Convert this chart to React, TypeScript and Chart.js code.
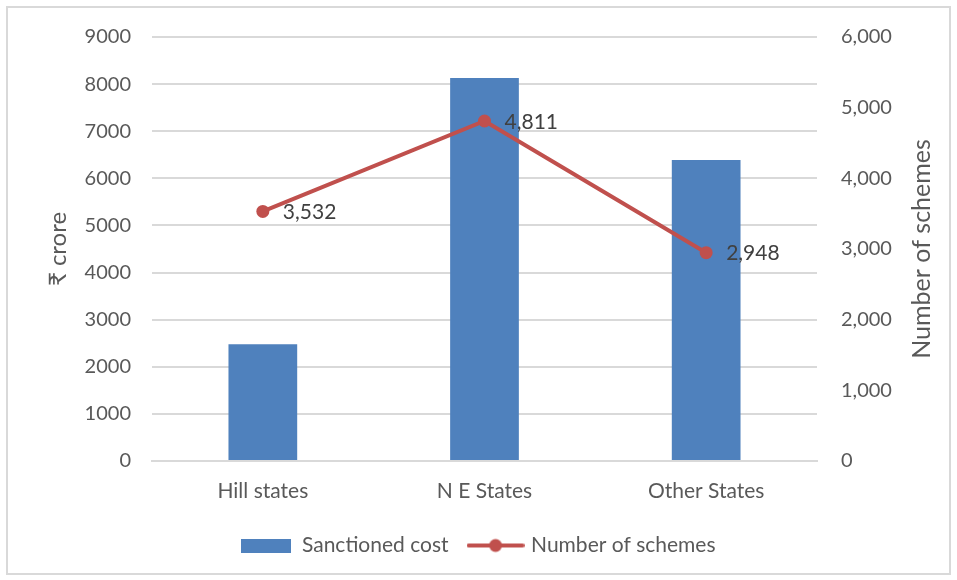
import React, { useEffect, useRef } from "react";
import { Chart, registerables } from "chart.js";

Chart.register(...registerables);

const categories = ["Hill states", "N E States", "Other States"];
const sanctionedCost = [2480, 8130, 6390];
const numberOfSchemes = [3532, 4811, 2948];
const leftTicks = [0, 1000, 2000, 3000, 4000, 5000, 6000, 7000, 8000, 9000];
const rightTicks = [0, 1000, 2000, 3000, 4000, 5000, 6000];

const FONT = "Lato";
const BLUE = "#4F81BD";
const RED = "#C0504D";
const TICK = "#595959";

function makeBarIcon() {
  const c = document.createElement("canvas");
  c.width = 50;
  c.height = 14;
  const g = c.getContext("2d")!;
  g.fillStyle = BLUE;
  g.fillRect(0, 0, 50, 14);
  return c;
}
function makeLineIcon() {
  const c = document.createElement("canvas");
  c.width = 58;
  c.height = 16;
  const g = c.getContext("2d")!;
  g.strokeStyle = RED;
  g.lineWidth = 4;
  g.lineCap = "round";
  g.beginPath();
  g.moveTo(2, 8);
  g.lineTo(56, 8);
  g.stroke();
  g.fillStyle = RED;
  g.beginPath();
  g.arc(29, 8, 6.5, 0, Math.PI * 2);
  g.fill();
  return c;
}

const extrasPlugin = {
  id: "extras",
  afterDatasetsDraw(chart: any) {
    const ctx = chart.ctx;
    const meta = chart.getDatasetMeta(1);
    ctx.save();
    ctx.font = `21px ${FONT}`;
    ctx.fillStyle = "#404040";
    ctx.textAlign = "left";
    ctx.textBaseline = "middle";
    meta.data.forEach((pt: any, i: number) => {
      ctx.fillText(numberOfSchemes[i].toLocaleString("en-US"), pt.x + 20, pt.y + 1);
    });
    ctx.restore();
  },
  afterDraw(chart: any) {
    const ctx = chart.ctx;
    const area = chart.chartArea;
    const cy = (area.top + area.bottom) / 2;
    ctx.save();
    ctx.fillStyle = TICK;
    ctx.textAlign = "center";
    ctx.textBaseline = "middle";
    ctx.font = `24px ${FONT}`;
    ctx.translate(chart.scales.y.left + 58, cy);
    ctx.rotate(-Math.PI / 2);
    ctx.fillText("₹ crore", 0, 0);
    ctx.restore();
    ctx.save();
    ctx.fillStyle = TICK;
    ctx.textAlign = "center";
    ctx.textBaseline = "middle";
    ctx.font = `25px ${FONT}`;
    ctx.translate(chart.scales.y1.right - 35, cy);
    ctx.rotate(-Math.PI / 2);
    ctx.fillText("Number of schemes", 0, 0);
    ctx.restore();
  },
};

export default function App() {
  const ref = useRef<HTMLCanvasElement>(null);
  useEffect(() => {
    const barIcon = makeBarIcon();
    const lineIcon = makeLineIcon();
    const chart = new Chart(ref.current!, {
      type: "bar",
      data: {
        labels: categories,
        datasets: [
          {
            type: "bar",
            label: "Sanctioned cost",
            data: sanctionedCost,
            backgroundColor: BLUE,
            yAxisID: "y",
            barPercentage: 1,
            categoryPercentage: 0.31,
            order: 2,
          },
          {
            type: "line",
            label: "Number of schemes",
            data: numberOfSchemes,
            borderColor: RED,
            backgroundColor: RED,
            borderWidth: 4,
            pointRadius: 6.5,
            pointHoverRadius: 6.5,
            pointBackgroundColor: RED,
            pointBorderWidth: 0,
            tension: 0,
            yAxisID: "y1",
            order: 1,
          },
        ],
      },
      options: {
        animation: false,
        responsive: false,
        layout: { padding: { top: 37, bottom: 14, left: 0, right: 0 } },
        plugins: {
          tooltip: { enabled: false },
          legend: {
            position: "bottom",
            labels: {
              usePointStyle: true,
              pointStyleWidth: 50,
              padding: 22,
              color: TICK,
              font: { family: FONT, size: 21 },
              generateLabels: () => [
                { text: "Sanctioned cost", pointStyle: barIcon, fillStyle: BLUE, strokeStyle: BLUE, lineWidth: 0, hidden: false, datasetIndex: 0, fontColor: TICK },
                { text: "Number of schemes", pointStyle: lineIcon, fillStyle: RED, strokeStyle: RED, lineWidth: 0, hidden: false, datasetIndex: 1, fontColor: TICK },
              ] as any,
            },
          },
        },
        scales: {
          x: {
            grid: { display: false, drawTicks: false },
            border: { display: true, color: "#d9d9d9", width: 2 },
            ticks: { color: TICK, font: { family: FONT, size: 21 }, padding: 18 },
            afterFit: (s: any) => {
              s.height = 52;
            },
          },
          y: {
            position: "left",
            min: 0,
            max: 9000,
            afterBuildTicks: (s: any) => {
              s.ticks = leftTicks.map((v) => ({ value: v }));
            },
            grid: { color: "#d9d9d9", lineWidth: 2, drawTicks: false },
            border: { display: false },
            ticks: { color: TICK, font: { family: FONT, size: 20 }, padding: 21, callback: (v: any) => String(v) },
            afterFit: (s: any) => {
              s.width = 152;
            },
          },
          y1: {
            position: "right",
            min: 0,
            max: 6000,
            afterBuildTicks: (s: any) => {
              s.ticks = rightTicks.map((v) => ({ value: v }));
            },
            grid: { display: false, drawTicks: false },
            border: { display: false },
            ticks: {
              color: TICK,
              font: { family: FONT, size: 20 },
              padding: 24,
              callback: (v: any) => Number(v).toLocaleString("en-US"),
            },
            afterFit: (s: any) => {
              s.width = 140;
            },
          },
        },
      },
      plugins: [extrasPlugin],
    });
    return () => chart.destroy();
  }, []);
  return (
    <div style={{ position: "fixed", left: 0, top: 0, width: 957, height: 580, background: "#fff" }}>
      <canvas ref={ref} width={957} height={580} style={{ position: "absolute", left: 0, top: 0 }} />
      <div
        style={{
          position: "absolute",
          left: 6,
          top: 6,
          width: 941,
          height: 565,
          border: "2px solid #d9d9d9",
          pointerEvents: "none",
        }}
      />
    </div>
  );
}
